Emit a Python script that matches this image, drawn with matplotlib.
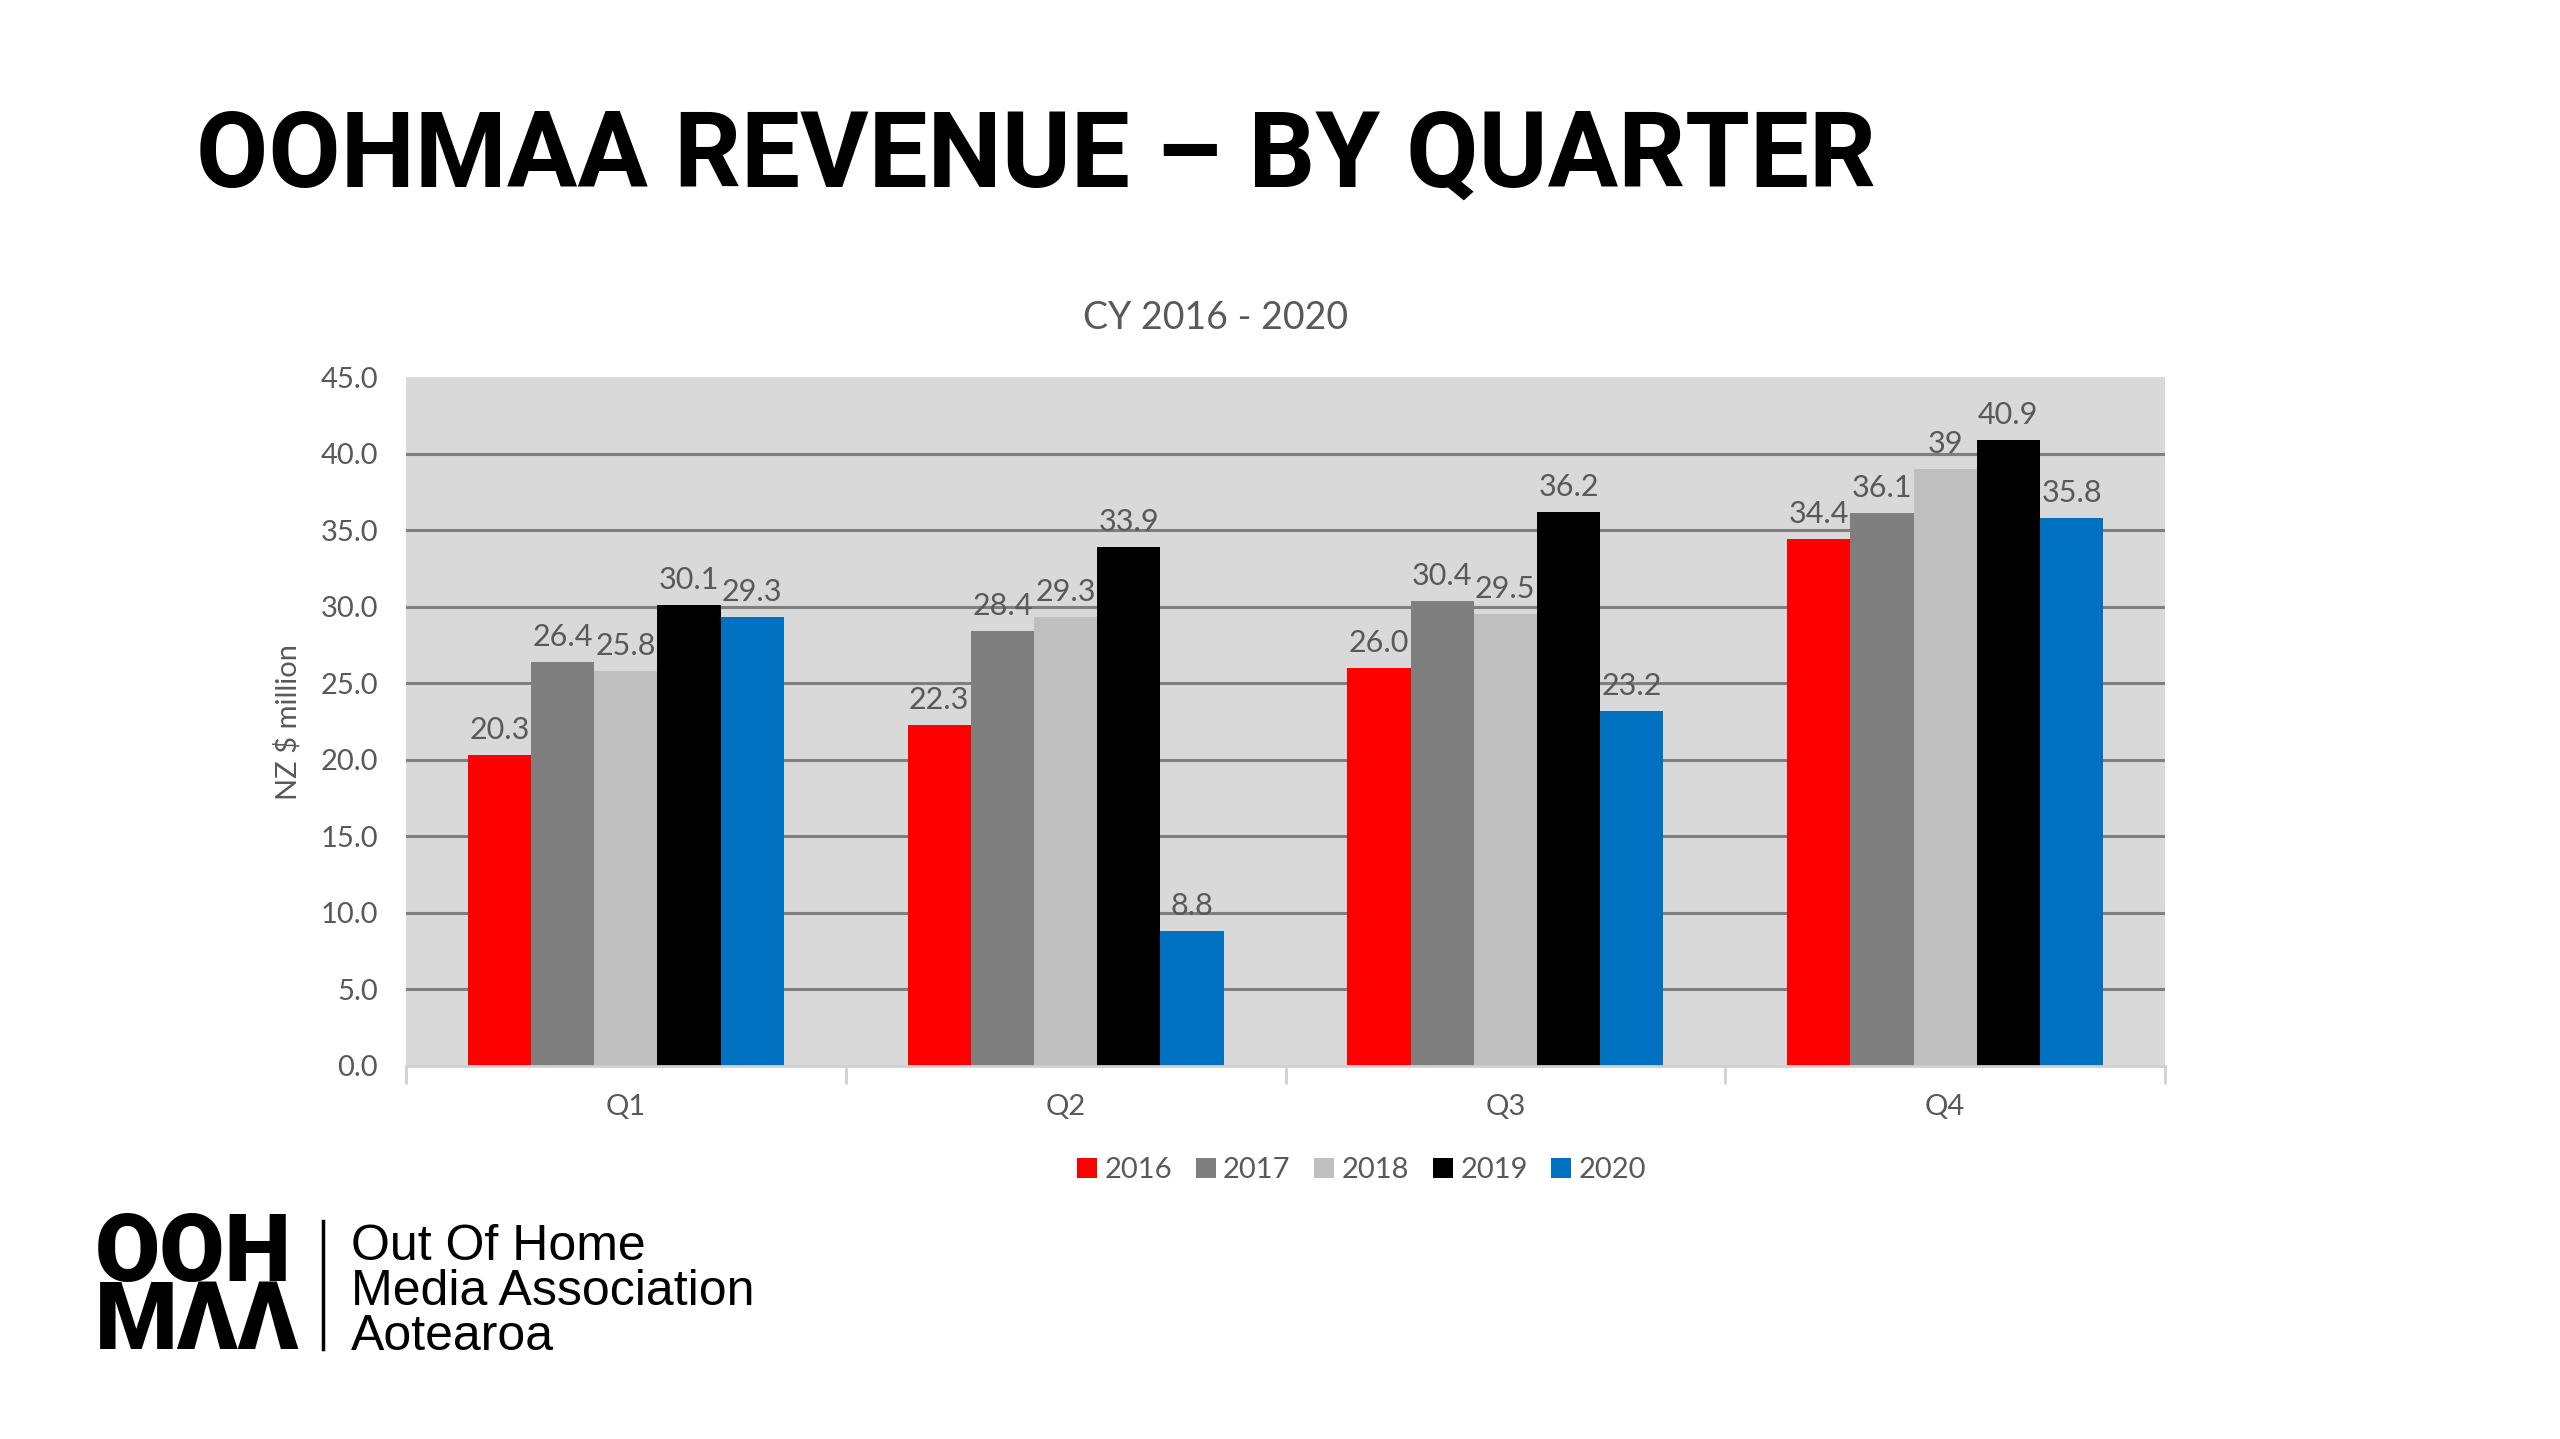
import matplotlib
matplotlib.use("Agg")
import matplotlib.pyplot as plt
from matplotlib.lines import Line2D
import numpy as np

quarters = ["Q1", "Q2", "Q3", "Q4"]
years = ["2016", "2017", "2018", "2019", "2020"]
revenue = {
    "2016": [20.3, 22.3, 26.0, 34.4],
    "2017": [26.4, 28.4, 30.4, 36.1],
    "2018": [25.8, 29.3, 29.5, 39.0],
    "2019": [30.1, 33.9, 36.2, 40.9],
    "2020": [29.3, 8.8, 23.2, 35.8],
}
value_labels = {
    "2016": ["20.3", "22.3", "26.0", "34.4"],
    "2017": ["26.4", "28.4", "30.4", "36.1"],
    "2018": ["25.8", "29.3", "29.5", "39"],
    "2019": ["30.1", "33.9", "36.2", "40.9"],
    "2020": ["29.3", "8.8", "23.2", "35.8"],
}
colors = ["#ff0000", "#7f7f7f", "#bfbfbf", "#000000", "#0070c0"]
y_ticks = [0, 5, 10, 15, 20, 25, 30, 35, 40, 45]

W, H = 2560, 1439
TXT = "#595959"
FONT = "Lato"

fig = plt.figure(figsize=(W / 100, H / 100), dpi=100)
fig.patch.set_facecolor("white")

# slide title
fig.text(196 / W, 1 - 187 / H, "OOHMAA REVENUE \u2013 BY QUARTER",
         family="Roboto", weight="bold", fontsize=75.5,
         color="black", va="baseline", ha="left")

# chart title
fig.text(1216 / W, 1 - 318 / H, "CY 2016 - 2020", family=FONT,
         fontsize=27, color=TXT, ha="center", va="center")

ax = fig.add_axes([406 / W, 1 - 1066 / H, (2165 - 406) / W, (1066 - 377) / H])
ax.set_facecolor("#d9d9d9")

x = np.arange(len(quarters))
bar_w = 0.1437
for i, (year, color) in enumerate(zip(years, colors)):
    offs = (i - 2) * bar_w
    bars = ax.bar(x + offs, revenue[year], width=bar_w, color=color,
                  zorder=3, linewidth=0)
    for rect, lab in zip(bars, value_labels[year]):
        ax.annotate(lab, (rect.get_x() + rect.get_width() / 2, rect.get_height()),
                    xytext=(0, 11), textcoords="offset pixels",
                    ha="center", va="bottom", fontsize=22,
                    family=FONT, color=TXT, zorder=4)

ax.set_xlim(-0.5, len(quarters) - 0.5)
ax.set_ylim(0, 45)
ax.set_yticks(y_ticks)
ax.set_yticklabels([f"{t:.1f}" for t in y_ticks], family=FONT, fontsize=21, color=TXT)
ax.tick_params(axis="y", length=0, pad=20)

ax.set_xticks(x)
ax.set_xticklabels(quarters, family=FONT, fontsize=21, color=TXT)
ax.tick_params(axis="x", length=0, pad=20)
ax.set_xticks(np.arange(len(quarters) + 1) - 0.5, minor=True)
ax.tick_params(axis="x", which="minor", length=13, width=2, color="#d0d0d0",
               direction="out")

ax.yaxis.grid(True, color="#7f7f7f", linewidth=2.2, zorder=1)
ax.set_axisbelow(True)
gl = ax.get_ygridlines()
gl[0].set_visible(False)
gl[-1].set_visible(False)

for side in ["top", "right", "left"]:
    ax.spines[side].set_visible(False)
ax.spines["bottom"].set_color("#d0d0d0")
ax.spines["bottom"].set_linewidth(2)
ax.spines["bottom"].set_zorder(5)

ax.set_ylabel("NZ $ million", family=FONT, fontsize=21, color=TXT, labelpad=14)

handles = [Line2D([], [], marker="s", linestyle="none", markersize=14,
                  markerfacecolor=c, markeredgewidth=0) for c in colors]
fig.legend(handles, years, loc="center", bbox_to_anchor=(1360 / W, 1 - 1170 / H),
           ncol=5, frameon=False, handletextpad=0.15, columnspacing=0.7,
           handlelength=0.9, prop={"family": FONT, "size": 21},
           labelcolor=TXT)

# logo
fig.text(95 / W, 1 - 1349 / H, "OOH\nM\u039b\u039b", family="Roboto", weight="black",
         fontsize=68, color="black", va="baseline", ha="left", linespacing=0.69)
fig.add_artist(Line2D([323 / W, 323 / W], [1 - 1221 / H, 1 - 1349 / H],
                      color="black", linewidth=2.5))
for txt, yb in zip(["Out Of Home", "Media Association", "Aotearoa"], [1260, 1305, 1350]):
    fig.text(351 / W, 1 - yb / H, txt, family="Liberation Sans", fontsize=36,
             color="black", va="baseline", ha="left")

fig.savefig("out.png", dpi=100)
